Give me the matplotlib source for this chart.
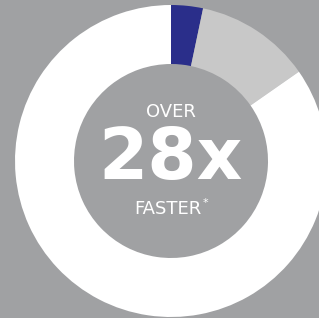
import matplotlib
matplotlib.use("Agg")
import matplotlib.pyplot as plt

# segment shares (clockwise from 12 o'clock)
labels = ["highlight", "baseline", "rest"]
shares = [3.3, 12.0, 84.7]
colors = ["#2a2e8a", "#c8c8c8", "#ffffff"]

bg = "#a0a1a3"

fig = plt.figure(figsize=(3.19, 3.18), dpi=100, facecolor=bg)
ax = fig.add_axes([0, 0, 1, 1])
ax.set_facecolor(bg)

ax.pie(shares, colors=colors, startangle=90, counterclock=False,
       center=(171, 157), radius=156, frame=True,
       wedgeprops=dict(width=59, linewidth=0))
ax.set_xlim(0, 319)
ax.set_ylim(0, 318)
ax.set_aspect("equal")
ax.axis("off")

ax.text(171, 206, "OVER", ha="center", va="center", color="white",
        fontsize=13, family="DejaVu Sans")
ax.text(171, 158, "28x", ha="center", va="center", color="white",
        fontsize=51, family="DejaVu Sans", fontweight="bold")
t = ax.text(168, 109, "FASTER", ha="center", va="center", color="white",
            fontsize=13, family="DejaVu Sans")
ax.annotate("*", xy=(1, 1), xycoords=t, xytext=(0.5, 1.5), textcoords="offset points",
            ha="left", va="top", color="white", fontsize=8, family="DejaVu Sans")

fig.savefig("out.png", dpi=100, facecolor=bg)
